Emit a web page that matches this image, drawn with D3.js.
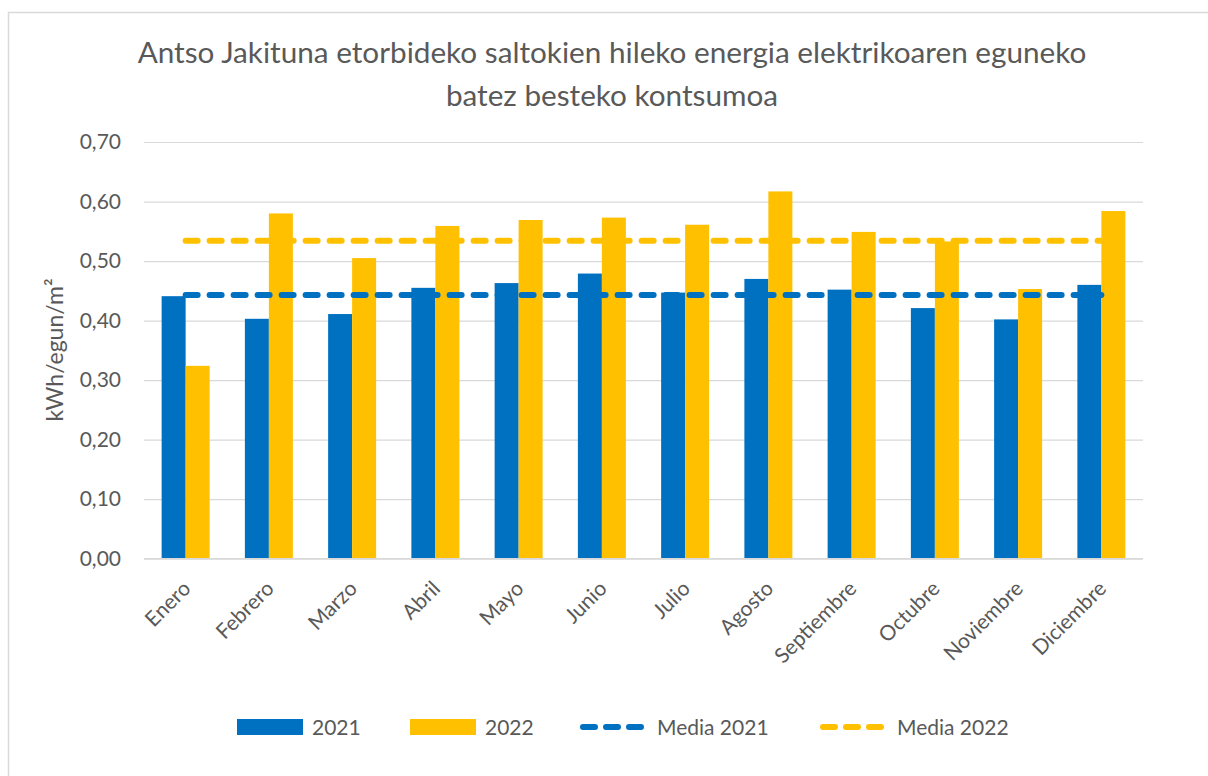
<!DOCTYPE html>
<html>
<head>
<meta charset="utf-8">
<script src="https://cdn.jsdelivr.net/npm/d3@7"></script>
<style>
  html, body { margin: 0; padding: 0; background: #fff; }
  svg { display: block; }
  text { font-family: Lato, "Open Sans", sans-serif; fill: #595959; }
</style>
</head>
<body>
<svg id="chart" width="1208" height="776"></svg>
<script>
const months = ["Enero","Febrero","Marzo","Abril","Mayo","Junio","Julio","Agosto","Septiembre","Octubre","Noviembre","Diciembre"];
const series = ["2021","2022"];
const values2021 = [0.441, 0.403, 0.411, 0.455, 0.463, 0.479, 0.447, 0.470, 0.452, 0.421, 0.402, 0.460];
const values2022 = [0.324, 0.580, 0.505, 0.559, 0.569, 0.573, 0.561, 0.617, 0.549, 0.533, 0.453, 0.584];
const media2021 = [0.443, 0.443, 0.443, 0.443, 0.443, 0.443, 0.443, 0.443, 0.443, 0.443, 0.443, 0.443];
const media2022 = [0.534, 0.534, 0.534, 0.534, 0.534, 0.534, 0.534, 0.534, 0.534, 0.534, 0.534, 0.534];
const yTicks = [0, 0.1, 0.2, 0.3, 0.4, 0.5, 0.6, 0.7];
const titleLines = ["Antso Jakituna etorbideko saltokien hileko energia elektrikoaren eguneko", "batez besteko kontsumoa"];
const yAxisTitle = "kWh/egun/m²";
const legendLabels = ["2021", "2022", "Media 2021", "Media 2022"];

const colors = { "2021": "#0070C0", "2022": "#FFC000" };

const svg = d3.select("#chart");

// outer chart border
svg.append("rect").attr("x", 8.5).attr("y", 12.5).attr("width", 1400).attr("height", 1000)
  .attr("fill", "#fff").attr("stroke", "#D9D9D9").attr("stroke-width", 1.5);

const plot = { left: 144, right: 1143, top: 142, bottom: 558.7 };

const x = d3.scaleBand().domain(months).range([plot.left, plot.right])
  .paddingInner(0.4235).paddingOuter(0.2118);
const xs = d3.scaleBand().domain(series).range([0, x.bandwidth()]);
const y = d3.scaleLinear().domain([0, 0.7]).range([plot.bottom, plot.top]);

// gridlines
const yAxis = d3.axisLeft(y).tickValues(yTicks).tickSize(-(plot.right - plot.left))
  .tickPadding(23).tickFormat(d => d3.format(".2f")(d).replace(".", ","));
const gy = svg.append("g").attr("transform", `translate(${plot.left},0)`).call(yAxis);
gy.select(".domain").remove();
gy.selectAll(".tick line").attr("stroke", "#D9D9D9").attr("stroke-width", 1.2);
gy.selectAll(".tick text").attr("font-size", 21).attr("fill", "#595959")
  .style("font-family", "Lato, sans-serif");

// bars
const data = months.map((m, i) => ({ month: m, vals: [
  { s: "2021", v: values2021[i] }, { s: "2022", v: values2022[i] } ] }));
const groups = svg.append("g").selectAll("g").data(data).join("g")
  .attr("transform", d => `translate(${x(d.month)},0)`);
groups.selectAll("rect").data(d => d.vals).join("rect")
  .attr("x", d => xs(d.s)).attr("width", xs.bandwidth())
  .attr("y", d => y(d.v)).attr("height", d => y(0) - y(d.v))
  .attr("fill", d => colors[d.s]);

// baseline
svg.append("line").attr("x1", plot.left).attr("x2", plot.right)
  .attr("y1", y(0)).attr("y2", y(0)).attr("stroke", "#D9D9D9").attr("stroke-width", 1.2);

// mean lines
const line = d3.line().x((d, i) => x(months[i]) + x.bandwidth() / 2).y(d => y(d));
[[media2021, colors["2021"]], [media2022, colors["2022"]]].forEach(([arr, c]) => {
  svg.append("path").datum(arr).attr("d", line).attr("fill", "none")
    .attr("stroke", c).attr("stroke-width", 6).attr("stroke-linecap", "round")
    .attr("stroke-dasharray", "12,12");
});

// x labels
const xAxis = d3.axisBottom(x).tickSize(0).tickPadding(0);
const gx = svg.append("g").attr("transform", `translate(0,${plot.bottom})`).call(xAxis);
gx.select(".domain").remove();
gx.selectAll(".tick text")
  .attr("font-size", 21).attr("fill", "#595959").style("font-family", "Lato, sans-serif")
  .attr("text-anchor", "end").attr("y", 0).attr("dy", "0.35em")
  .attr("transform", "translate(1,26) rotate(-45)");

// title
const tg = svg.append("g");
titleLines.forEach((t, i) => {
  tg.append("text").attr("x", 612).attr("y", i === 0 ? 63 : 106)
    .attr("text-anchor", "middle").attr("font-size", 27).text(t);
});
const t0 = tg.select("text").node();
const w0 = t0.getComputedTextLength();
const fs = 27 * 949 / w0;
tg.selectAll("text").attr("font-size", fs);

// y axis title
svg.append("text").attr("transform", "translate(63,350) rotate(-90)")
  .attr("text-anchor", "middle").attr("font-size", 23).text(yAxisTitle);

// legend
const legendX = [237, 410, 580, 820];
const legendY = 727;
legendLabels.forEach((lab, i) => {
  const g = svg.append("g").attr("transform", `translate(${legendX[i]},${legendY})`);
  const c = i % 2 === 0 ? colors["2021"] : colors["2022"];
  if (i < 2) {
    g.append("rect").attr("x", 0).attr("y", -8).attr("width", 66).attr("height", 16).attr("fill", c);
    g.append("text").attr("x", 75).attr("y", 0).attr("dy", "0.36em").attr("font-size", 21).text(lab);
  } else {
    g.append("line").attr("x1", 3).attr("x2", 62).attr("y1", 0).attr("y2", 0)
      .attr("stroke", c).attr("stroke-width", 6).attr("stroke-linecap", "round")
      .attr("stroke-dasharray", "12,11");
    g.append("text").attr("x", 77).attr("y", 0).attr("dy", "0.36em").attr("font-size", 21).text(lab);
  }
});
</script>
</body>
</html>
